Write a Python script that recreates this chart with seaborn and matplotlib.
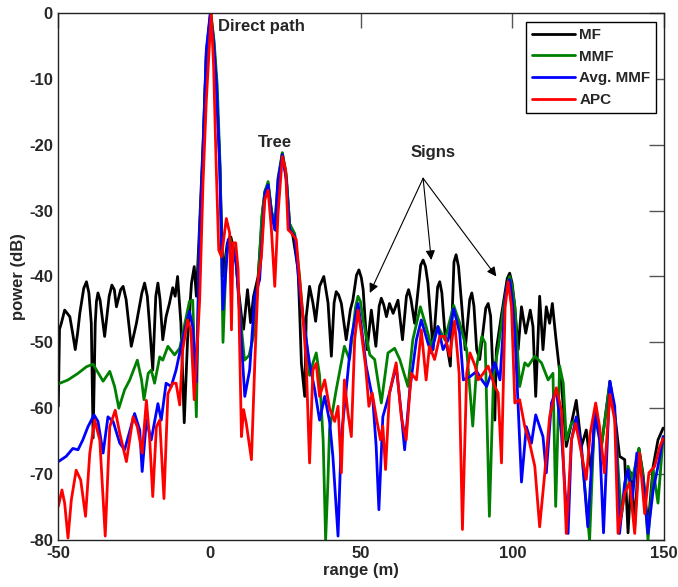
import numpy as np
import matplotlib
matplotlib.use("Agg")
import matplotlib.pyplot as plt
import pandas as pd
import seaborn as sns

# (1) - Data: range (m) and power (dB) per filter
mf_x = [-50, -49.6, -49.0, -47.9, -46.2, -45.3, -44.4, -43.6, -42.9, -41.6, -40.7, -39.9, -39.1, -38.5,
        -37.8, -37.4, -36.9, -36.2, -34.7, -33.2, -32.3, -31.5, -30.8, -29.4, -28.6, -27.6, -25.9, -24.2,
        -22.4, -21.5, -20.6, -19.9, -18.8, -17.8, -17.1, -16.4, -15.5, -14.4, -13.3, -12.2, -11.4, -10.6,
        -9.5, -8.4, -7.3, -6.0, -5.1, -4.4, -3.5, -2.2, -1.1, 0.3, 1.3, 2.2, 3.3, 4.4, 5.8, 7.0, 8.5, 9.5,
        10.5, 11.2, 12.5, 13.5, 14.5, 16.0, 17.5, 18.3, 19.3, 20.4, 21.8, 22.7, 24.0, 25.3, 26.4, 27.5,
        29.2, 29.7, 30.3, 31.4, 31.9, 33.0, 34.1, 35.0, 36.3, 37.7, 39.1, 40.2, 41.1, 41.8, 42.6, 43.5,
        45.1, 46.5, 47.3, 48.5, 49.3, 50.1, 50.7, 52.0, 53.4, 54.9, 56.0, 56.7, 57.5, 58.4, 59.4, 60.6,
        62.2, 63.7, 65.0, 65.7, 66.5, 67.7, 69.7, 70.5, 71.3, 72.1, 73.8, 75.3, 76.0, 76.7, 77.7, 79.5,
        80.7, 81.4, 82.2, 83.3, 84.4, 85.9, 86.6, 87.3, 88.2, 89.2, 91.2, 92.0, 92.8, 94.2, 94.7, 96.3,
        98.3, 99.1, 99.9, 100.8, 101.9, 103.0, 104.4, 105.9, 106.8, 107.7, 109.0, 110.1, 111.2, 112.3,
        113.2, 114.3, 115.4, 116.2, 117.8, 119.5, 121.1, 122.8, 124.4, 126.1, 127.5, 129.4, 132.2, 133.8,
        135.4, 137.1, 138.2, 139.3, 140.4, 141.8, 143.1, 144.8, 146.5, 148.1, 149.8]
mf_y = [-59.7, -48.0, -47.1, -45.1, -46.1, -48.5, -51.1, -48.5, -45.6, -41.8, -40.8, -42.5, -47.1, -64.5,
        -47.1, -43.8, -42.5, -43.6, -49.1, -43.0, -41.3, -42.0, -44.6, -42.0, -41.5, -43.5, -50.6, -47.1,
        -42.5, -41.0, -43.0, -47.1, -54.2, -43.0, -41.0, -43.5, -49.6, -46.1, -44.1, -41.7, -43.0, -40.0,
        -47.1, -62.2, -49.6, -41.0, -38.5, -43.0, -34.0, -20.0, -6.0, 0.0, -4.0, -10.5, -22.5, -40.0, -35.0,
        -34.0, -37.0, -42.0, -46.0, -48.0, -42.0, -47.0, -43.0, -40.0, -30.0, -27.0, -26.0, -30.0, -33.0,
        -26.0, -21.3, -25.0, -32.0, -33.9, -38.9, -45.0, -53.2, -58.2, -46.1, -41.5, -44.0, -46.8, -41.5,
        -40.0, -44.0, -52.1, -44.0, -42.3, -42.8, -44.1, -49.6, -45.0, -43.6, -39.8, -39.0, -40.2, -42.0,
        -51.1, -45.1, -50.6, -44.5, -43.3, -44.3, -46.1, -44.1, -45.6, -43.6, -49.6, -43.0, -42.0, -43.5,
        -47.1, -38.3, -37.5, -38.5, -41.0, -51.1, -41.6, -40.8, -42.5, -48.6, -53.6, -37.8, -36.7, -38.5,
        -44.6, -51.1, -43.5, -42.5, -44.5, -51.1, -52.6, -44.8, -44.1, -46.0, -61.8, -51.1, -46.1, -40.3,
        -39.5, -41.0, -44.6, -51.1, -44.6, -48.6, -45.1, -47.6, -58.2, -43.0, -51.1, -44.6, -47.1, -44.1,
        -49.1, -53.6, -56.2, -65.8, -62.3, -58.8, -65.8, -63.3, -69.8, -59.7, -65.8, -55.9, -60.8, -67.3,
        -67.8, -78.9, -69.8, -78.0, -66.1, -69.8, -78.0, -68.8, -64.8, -63.0]

mmf_x = [-50, -46.8, -43.5, -40.7, -38.5, -37.4, -35.2, -33.0, -31.4, -30.0, -28.1, -26.4, -23.9, -22.5,
         -21.7, -20.3, -19.3, -18.2, -16.5, -15.5, -13.8, -11.6, -9.9, -8.4, -6.7, -5.6, -4.4, -3.5, -2.2,
         -1.1, 0.4, 1.5, 2.5, 3.5, 4.4, 5.5, 6.5, 7.7, 8.8, 9.9, 11.5, 13.0, 14.5, 16.0, 17.2, 18.2, 19.3,
         20.4, 21.5, 22.6, 24.0, 25.3, 26.4, 28.1, 29.7, 30.8, 32.0, 33.0, 34.2, 35.2, 36.3, 37.5, 38.3,
         39.0, 39.6, 41.8, 44.5, 46.2, 48.2, 49.0, 49.8, 50.7, 52.9, 54.5, 56.7, 58.9, 61.1, 62.8, 65.5,
         67.1, 69.6, 71.5, 73.2, 75.4, 77.7, 80.6, 82.6, 84.9, 86.9, 88.2, 89.9, 91.0, 92.4, 93.8, 95.4,
         97.1, 98.3, 99.1, 99.9, 100.8, 102.4, 104.1, 105.2, 107.4, 109.6, 111.8, 113.4, 114.3, 115.6,
         116.8, 117.8, 119.5, 120.9, 122.8, 125.5, 127.2, 129.4, 132.2, 133.8, 136.0, 138.2, 139.6, 141.8,
         143.3, 144.8, 146.5, 148.1, 149.8]
mmf_y = [-56.3, -55.7, -54.7, -53.7, -53.3, -54.2, -55.9, -54.4, -56.7, -60.0, -57.2, -55.7, -52.7, -55.7,
         -58.7, -54.7, -54.2, -56.2, -52.2, -52.7, -50.6, -51.9, -50.9, -47.6, -43.8, -43.6, -61.3, -36.0,
         -21.5, -6.5, 0.0, -4.5, -11.0, -24.0, -50.0, -37.0, -34.0, -35.5, -38.0, -45.0, -52.7, -52.0,
         -49.0, -41.0, -31.0, -27.2, -25.6, -30.0, -32.5, -25.0, -21.2, -24.5, -32.0, -33.5, -40.0, -46.0,
         -50.0, -55.0, -53.0, -51.6, -55.0, -65.0, -80.0, -72.0, -63.2, -57.2, -50.6, -52.6, -44.6, -43.0,
         -43.8, -46.6, -51.9, -52.6, -59.2, -51.6, -50.9, -52.6, -56.7, -49.6, -44.6, -47.6, -50.6, -47.6,
         -49.6, -44.4, -47.1, -51.1, -62.7, -53.6, -49.1, -50.1, -76.4, -54.7, -50.6, -44.6, -41.2, -40.0,
         -41.5, -44.6, -56.7, -53.1, -53.6, -52.1, -53.1, -55.7, -54.7, -74.9, -53.6, -56.2, -64.8, -62.3,
         -61.8, -66.3, -80.0, -60.3, -65.8, -56.2, -61.3, -76.4, -68.8, -70.8, -66.1, -70.8, -80.0, -69.3,
         -74.4, -64.3]

avg_x = [-50, -47.4, -45.2, -43.5, -41.9, -40.2, -38.2, -36.9, -35.2, -33.6, -31.9, -29.7, -28.1, -24.8,
         -23.1, -22.3, -20.9, -19.3, -17.1, -16.0, -14.4, -12.7, -11.1, -8.9, -6.7, -5.6, -4.4, -3.3, -2.2,
         -1.1, 0.2, 1.2, 2.2, 3.3, 4.4, 6.1, 7.7, 8.8, 9.9, 11.6, 13.2, 14.9, 16.5, 18.2, 19.3, 20.4, 21.5,
         22.6, 24.0, 25.3, 26.4, 28.1, 29.7, 30.8, 33.0, 34.7, 36.3, 38.0, 39.6, 40.7, 42.4, 43.5, 45.1,
         46.7, 49.0, 50.1, 51.7, 53.9, 55.0, 55.9, 57.2, 59.4, 61.6, 63.3, 64.4, 66.1, 68.3, 69.9, 72.1,
         73.2, 75.4, 77.1, 78.8, 80.6, 82.6, 83.8, 86.0, 88.2, 89.9, 91.5, 94.2, 95.9, 97.6, 98.3, 99.1,
         99.8, 100.8, 101.9, 103.0, 104.6, 106.3, 107.7, 109.0, 110.1, 111.2, 112.9, 114.5, 116.2, 117.3,
         118.4, 119.5, 121.1, 122.8, 124.9, 127.2, 128.8, 130.1, 132.2, 133.8, 135.4, 137.1, 138.2, 139.6,
         141.1, 143.1, 144.8, 146.5, 148.1, 149.8]
avg_y = [-68.1, -67.3, -66.1, -66.3, -64.8, -62.8, -61.0, -62.0, -66.8, -61.3, -62.0, -65.3, -66.3, -60.8,
         -63.3, -69.6, -61.8, -64.8, -59.3, -61.8, -56.2, -56.7, -54.2, -49.4, -45.3, -47.6, -56.0, -33.4,
         -20.8, -5.6, 0.0, -4.0, -10.6, -22.8, -45.0, -34.4, -35.9, -38.0, -45.6, -58.2, -54.2, -43.0,
         -40.5, -27.4, -26.1, -30.4, -32.9, -25.3, -21.5, -25.3, -32.9, -33.9, -42.0, -46.1, -53.2, -57.2,
         -61.8, -58.2, -62.0, -67.3, -79.4, -64.3, -57.2, -49.6, -44.1, -47.6, -53.6, -58.7, -65.8, -75.4,
         -61.3, -57.7, -53.6, -60.8, -66.3, -57.2, -49.6, -46.6, -50.1, -51.6, -47.6, -51.1, -49.6, -44.9,
         -48.6, -55.7, -55.2, -54.4, -55.7, -56.7, -53.1, -55.7, -43.6, -41.2, -40.5, -43.0, -48.6, -59.7,
         -71.2, -62.8, -65.3, -61.0, -62.8, -64.3, -69.8, -59.2, -57.2, -63.8, -71.9, -79.0, -64.8, -61.3,
         -65.8, -78.0, -60.8, -64.8, -78.9, -55.9, -59.7, -79.0, -71.3, -69.3, -73.9, -66.8, -70.8, -79.0,
         -72.4, -68.8, -64.3]

apc_x = [-50, -48.8, -47.9, -46.8, -45.7, -44.1, -42.6, -41.0, -39.6, -38.0, -36.3, -34.5, -33.0, -31.2,
         -29.7, -27.5, -25.3, -23.9, -22.3, -20.9, -19.8, -18.8, -17.6, -16.5, -15.1, -13.8, -12.2, -11.1,
         -9.9, -8.9, -7.3, -6.2, -5.1, -4.0, -3.3, -2.2, -1.1, 0.5, 1.3, 2.2, 3.0, 3.9, 5.5, 6.6, 7.2, 7.7,
         8.6, 9.4, 10.5, 11.2, 12.1, 13.8, 14.9, 16.0, 17.1, 18.2, 19.3, 20.4, 21.5, 22.6, 24.0, 25.1,
         25.9, 27.0, 28.6, 29.7, 30.8, 31.9, 33.0, 34.1, 35.2, 36.3, 38.0, 39.6, 41.3, 42.4, 43.5, 44.5,
         45.7, 46.8, 47.9, 49.0, 50.1, 51.5, 52.6, 53.7, 55.0, 56.4, 57.2, 58.1, 59.4, 61.6, 63.3, 64.9,
         66.6, 68.3, 69.9, 71.5, 72.6, 74.3, 76.0, 77.7, 79.3, 80.9, 82.4, 83.5, 84.9, 86.0, 87.7, 88.7,
         90.4, 92.0, 94.2, 95.3, 96.4, 97.6, 98.6, 99.7, 100.8, 102.4, 104.1, 105.7, 107.4, 109.0, 110.7,
         112.3, 114.5, 116.2, 117.8, 119.5, 120.9, 122.8, 124.4, 125.7, 127.5, 128.8, 130.4, 132.2, 133.8,
         134.9, 137.1, 138.7, 140.4, 142.0, 143.7, 145.1, 147.0, 148.7, 149.8]
apc_y = [-74.9, -72.4, -74.4, -79.7, -73.9, -69.4, -70.9, -76.4, -66.8, -61.8, -64.8, -79.4, -62.8, -60.3,
         -63.8, -68.1, -61.3, -62.8, -66.8, -58.8, -64.8, -73.4, -62.8, -61.8, -73.7, -57.8, -56.2, -56.2,
         -59.5, -51.1, -46.6, -48.1, -58.7, -49.6, -43.5, -25.8, -13.2, 0.0, -8.1, -24.0, -36.0, -37.0,
         -31.2, -33.4, -48.1, -34.9, -34.9, -39.0, -64.3, -60.2, -62.3, -67.8, -53.2, -40.5, -36.9, -28.4,
         -26.9, -32.9, -41.5, -30.4, -21.8, -23.8, -32.9, -33.4, -34.4, -40.5, -46.1, -53.2, -68.3, -54.2,
         -53.2, -58.2, -55.7, -60.0, -62.0, -59.7, -69.8, -55.7, -60.8, -64.3, -49.6, -45.1, -48.6, -53.6,
         -59.7, -57.7, -61.3, -64.8, -62.7, -69.3, -57.7, -53.1, -61.3, -64.8, -54.7, -55.7, -48.1, -55.7,
         -50.6, -52.6, -49.1, -49.1, -52.1, -46.8, -54.7, -78.4, -54.7, -51.6, -53.6, -55.7, -54.7, -53.6,
         -56.7, -57.7, -68.3, -44.6, -40.8, -44.6, -59.2, -58.7, -62.8, -65.3, -68.8, -78.0, -69.8, -61.3,
         -56.9, -60.3, -79.0, -64.8, -62.3, -66.8, -70.8, -63.8, -59.2, -62.8, -69.8, -57.9, -61.8, -79.0,
         -72.9, -71.3, -79.0, -66.8, -76.0, -69.8, -68.8, -65.8, -64.6]

nomes = ["MF", "MMF", "Avg. MMF", "APC"]
cores = ["#000000", "#008000", "#0000ff", "#ff0000"]
series = [(mf_x, mf_y), (mmf_x, mmf_y), (avg_x, avg_y), (apc_x, apc_y)]

# (2) - Figure
sns.set_style("white")
plt.rcParams["font.family"] = ["Liberation Sans", "DejaVu Sans"]
plt.rcParams["axes.unicode_minus"] = False

fig, ax = plt.subplots(figsize=(6.78, 5.87), dpi=100)
fig.subplots_adjust(left=0.086, right=0.979, bottom=0.080, top=0.978)

for (xs, ys), nome, cor in zip(series, nomes, cores):
    df = pd.DataFrame({"range": xs, "power": ys})
    sns.lineplot(data=df, x="range", y="power", sort=False, estimator=None,
                 color=cor, lw=2, label=nome, ax=ax)

ax.set_xlim(-50, 150)
ax.set_ylim(-80, 0)
ax.set_xticks([-50, 0, 50, 100, 150])
ax.set_yticks([0, -10, -20, -30, -40, -50, -60, -70, -80])
ax.tick_params(direction="in", top=True, right=True, length=11, width=1,
               color="#555555", labelsize=12, pad=4)
for lab in ax.get_xticklabels() + ax.get_yticklabels():
    lab.set_fontweight("bold")
for sp in ax.spines.values():
    sp.set_color("#222222")
    sp.set_linewidth(1)

ax.set_xlabel("range (m)", fontsize=12, fontweight="bold", labelpad=2)
ax.set_ylabel("power (dB)", fontsize=12, fontweight="bold", labelpad=2)

leg = ax.legend(loc="upper right", bbox_to_anchor=(0.988, 0.983), borderaxespad=0,
                frameon=True, fancybox=False, edgecolor="black", framealpha=1,
                prop={"size": 11, "weight": "bold"}, handlelength=2.8,
                labelspacing=0.5, handletextpad=0.3, borderpad=0.4)
leg.get_frame().set_linewidth(1)

# (3) - Annotations
ax.text(2.6, -2.1, "Direct path", fontsize=12, fontweight="bold", va="center")
ax.text(15.9, -19.7, "Tree", fontsize=12, fontweight="bold", va="center")
ax.text(66.4, -21.2, "Signs", fontsize=12, fontweight="bold", va="center")
for alvo in [(52.9, -42.5), (73.2, -37.5), (94.7, -40.0)]:
    ax.annotate("", xy=alvo, xytext=(70.5, -25.1),
                arrowprops=dict(arrowstyle="-|>", color="black", lw=0.8,
                                mutation_scale=14, shrinkA=0, shrinkB=0))

fig.savefig("out.png", dpi=100)
